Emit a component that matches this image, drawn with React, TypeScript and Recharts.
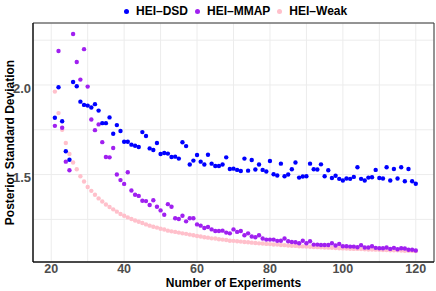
import { ScatterChart, Scatter, XAxis, YAxis, CartesianGrid, Legend, ReferenceArea } from "recharts";

// number of experiments (x)
const experiments = [
  21, 22, 23, 24, 25, 26, 27, 28, 29, 30, 31, 32, 33, 34, 35, 36, 37, 38, 39, 40,
  41, 42, 43, 44, 45, 46, 47, 48, 49, 50, 51, 52, 53, 54, 55, 56, 57, 58, 59, 60,
  61, 62, 63, 64, 65, 66, 67, 68, 69, 70, 71, 72, 73, 74, 75, 76, 77, 78, 79, 80,
  81, 82, 83, 84, 85, 86, 87, 88, 89, 90, 91, 92, 93, 94, 95, 96, 97, 98, 99, 100,
  101, 102, 103, 104, 105, 106, 107, 108, 109, 110, 111, 112, 113, 114, 115, 116, 117, 118, 119, 120,
];

// posterior standard deviation per method
const dsdSd = [
  1.817, 1.987, 1.798, 1.63, 1.583, 2.017, 1.993, 1.907, 1.889, 1.885,
  1.874, 1.893, 1.857, 1.787, 1.787, 1.819, 1.728, 1.776, 1.743, 1.683,
  1.683, 1.667, 1.661, 1.654, 1.737, 1.715, 1.646, 1.637, 1.676, 1.615,
  1.62, 1.617, 1.598, 1.6, 1.589, 1.68, 1.659, 1.556, 1.578, 1.609,
  1.572, 1.556, 1.611, 1.561, 1.548, 1.548, 1.556, 1.596, 1.531, 1.533,
  1.526, 1.52, 1.589, 1.522, 1.581, 1.528, 1.556, 1.526, 1.517, 1.576,
  1.502, 1.495, 1.561, 1.491, 1.5, 1.53, 1.567, 1.483, 1.489, 1.491,
  1.561, 1.53, 1.528, 1.557, 1.491, 1.524, 1.481, 1.493, 1.476, 1.467,
  1.478, 1.476, 1.487, 1.541, 1.476, 1.467, 1.483, 1.485, 1.526, 1.481,
  1.478, 1.541, 1.467, 1.531, 1.478, 1.541, 1.463, 1.531, 1.463, 1.449,
];

const mmapSd = [
  1.772, 2.19, 1.761, 1.572, 1.524, 2.285, 2.128, 2.03, 2.2, 1.991,
  1.807, 1.748, 1.78, 1.681, 1.598, 1.596, 1.648, 1.5, 1.469, 1.448,
  1.513, 1.411, 1.387, 1.381, 1.354, 1.352, 1.33, 1.357, 1.32, 1.3,
  1.276, 1.335, 1.32, 1.256, 1.252, 1.27, 1.239, 1.256, 1.256, 1.222,
  1.215, 1.202, 1.207, 1.194, 1.185, 1.185, 1.187, 1.176, 1.172, 1.194,
  1.18, 1.185, 1.161, 1.172, 1.154, 1.15, 1.161, 1.143, 1.137, 1.137,
  1.137, 1.13, 1.131, 1.143, 1.128, 1.124, 1.122, 1.117, 1.131, 1.117,
  1.128, 1.109, 1.109, 1.107, 1.107, 1.107, 1.117, 1.104, 1.113, 1.1,
  1.1, 1.098, 1.098, 1.094, 1.106, 1.093, 1.093, 1.1, 1.091, 1.089,
  1.089, 1.093, 1.085, 1.091, 1.083, 1.089, 1.087, 1.08, 1.08, 1.076,
];

const weakSd = [
  1.963, 1.843, 1.75, 1.676, 1.615, 1.567, 1.53, 1.491, 1.461, 1.431,
  1.409, 1.387, 1.367, 1.35, 1.333, 1.319, 1.306, 1.293, 1.28, 1.27,
  1.261, 1.252, 1.244, 1.237, 1.23, 1.222, 1.215, 1.209, 1.204, 1.198,
  1.193, 1.187, 1.183, 1.18, 1.176, 1.172, 1.169, 1.165, 1.161, 1.157,
  1.154, 1.15, 1.148, 1.144, 1.143, 1.139, 1.137, 1.135, 1.131, 1.13,
  1.128, 1.126, 1.124, 1.122, 1.12, 1.118, 1.116, 1.115, 1.113, 1.112,
  1.11, 1.109, 1.107, 1.106, 1.104, 1.103, 1.102, 1.1, 1.099, 1.098,
  1.097, 1.096, 1.095, 1.094, 1.093, 1.092, 1.091, 1.09, 1.089, 1.088,
  1.087, 1.086, 1.085, 1.085, 1.084, 1.083, 1.082, 1.082, 1.081, 1.08,
  1.079, 1.079, 1.078, 1.077, 1.077, 1.076, 1.075, 1.075, 1.074, 1.073,
];

const X_TICKS = [20, 30, 40, 50, 60, 70, 80, 90, 100, 110, 120];
const X_LABELS = [20, 40, 60, 80, 100, 120];
const Y_TICKS = [1.25, 1.5, 1.75, 2, 2.25];
const Y_LABELS = [1.5, 2];

const X_DOMAIN = [15, 125];
const Y_DOMAIN = [1.012, 2.346];

const SERIES = [
  { name: "HEI–DSD", values: dsdSd, color: "#0000FF" },
  { name: "HEI–MMAP", values: mmapSd, color: "#A020F0" },
  { name: "HEI–Weak", values: weakSd, color: "#FFC0CB" },
];

const FONT = "'Liberation Sans', Arial, Helvetica, sans-serif";

const toPoints = (values: number[]) => experiments.map((x, i) => ({ x, y: values[i] }));

const dotShape = (color: string) => (props: any) =>
  <circle cx={props.cx} cy={props.cy} r={2.2} fill={color} />;

const renderLegend = () => (
  <div
    style={{
      height: 22,
      width: 436,
      display: "flex",
      alignItems: "center",
      paddingLeft: 124,
      boxSizing: "border-box",
      fontFamily: FONT,
      fontWeight: "bold",
      fontSize: 12,
      color: "#000",
    }}
  >
    {SERIES.map((s) => (
      <div key={s.name} style={{ display: "flex", alignItems: "center", marginRight: 7 }}>
        <span
          style={{ width: 5, height: 5, borderRadius: "50%", background: s.color, marginRight: 7 }}
        />
        <span>{s.name}</span>
      </div>
    ))}
  </div>
);

export default function App() {
  // draw pink first so the darker series sit on top
  const drawOrder = [SERIES[2], SERIES[1], SERIES[0]];
  return (
    <div style={{ position: "absolute", left: 0, top: 0, width: 436, height: 291, background: "#fff" }}>
      <ScatterChart width={436} height={291} margin={{ top: 1, right: 2, bottom: 0, left: 0 }}>
        <Legend
          verticalAlign="top"
          content={renderLegend}
          wrapperStyle={{ left: 0, top: 0, width: 436 }}
        />
        <CartesianGrid stroke="#ececec" strokeWidth={1} />
        <XAxis
          type="number"
          dataKey="x"
          domain={X_DOMAIN}
          ticks={X_TICKS}
          interval={0}
          allowDataOverflow
          height={29}
          tickLine={false}
          tickSize={0}
          tickMargin={2}
          axisLine={{ stroke: "#000", strokeWidth: 1 }}
          tickFormatter={(v: number) => (X_LABELS.includes(v) ? String(v) : "")}
          tick={{ fill: "#4d4d4d", fontSize: 12.5, fontWeight: "bold", fontFamily: FONT }}
          label={{
            value: "Number of Experiments",
            position: "insideBottom",
            offset: 4,
            style: { fontFamily: FONT, fontWeight: "bold", fontSize: 12, fill: "#000" },
          }}
        />
        <YAxis
          type="number"
          dataKey="y"
          domain={Y_DOMAIN}
          ticks={Y_TICKS}
          interval={0}
          allowDataOverflow
          width={33}
          tickLine={false}
          tickSize={0}
          tickMargin={2}
          axisLine={{ stroke: "#000", strokeWidth: 1 }}
          tickFormatter={(v: number) => (Y_LABELS.includes(v) ? v.toFixed(1) : "")}
          tick={{ fill: "#4d4d4d", fontSize: 13, fontWeight: "bold", fontFamily: FONT, dy: 3 }}
          label={{
            value: "Posterior Standard Deviation",
            angle: -90,
            position: "insideLeft",
            offset: 10,
            style: { textAnchor: "middle", fontFamily: FONT, fontWeight: "bold", fontSize: 12, fill: "#000" },
          }}
        />
        <ReferenceArea
          x1={X_DOMAIN[0]}
          x2={X_DOMAIN[1]}
          y1={Y_DOMAIN[0]}
          y2={Y_DOMAIN[1]}
          fill="none"
          stroke="#333"
          strokeWidth={1}
        />
        {drawOrder.map((s) => (
          <Scatter
            key={s.name}
            name={s.name}
            data={toPoints(s.values)}
            fill={s.color}
            shape={dotShape(s.color)}
            isAnimationActive={false}
          />
        ))}
      </ScatterChart>
    </div>
  );
}
